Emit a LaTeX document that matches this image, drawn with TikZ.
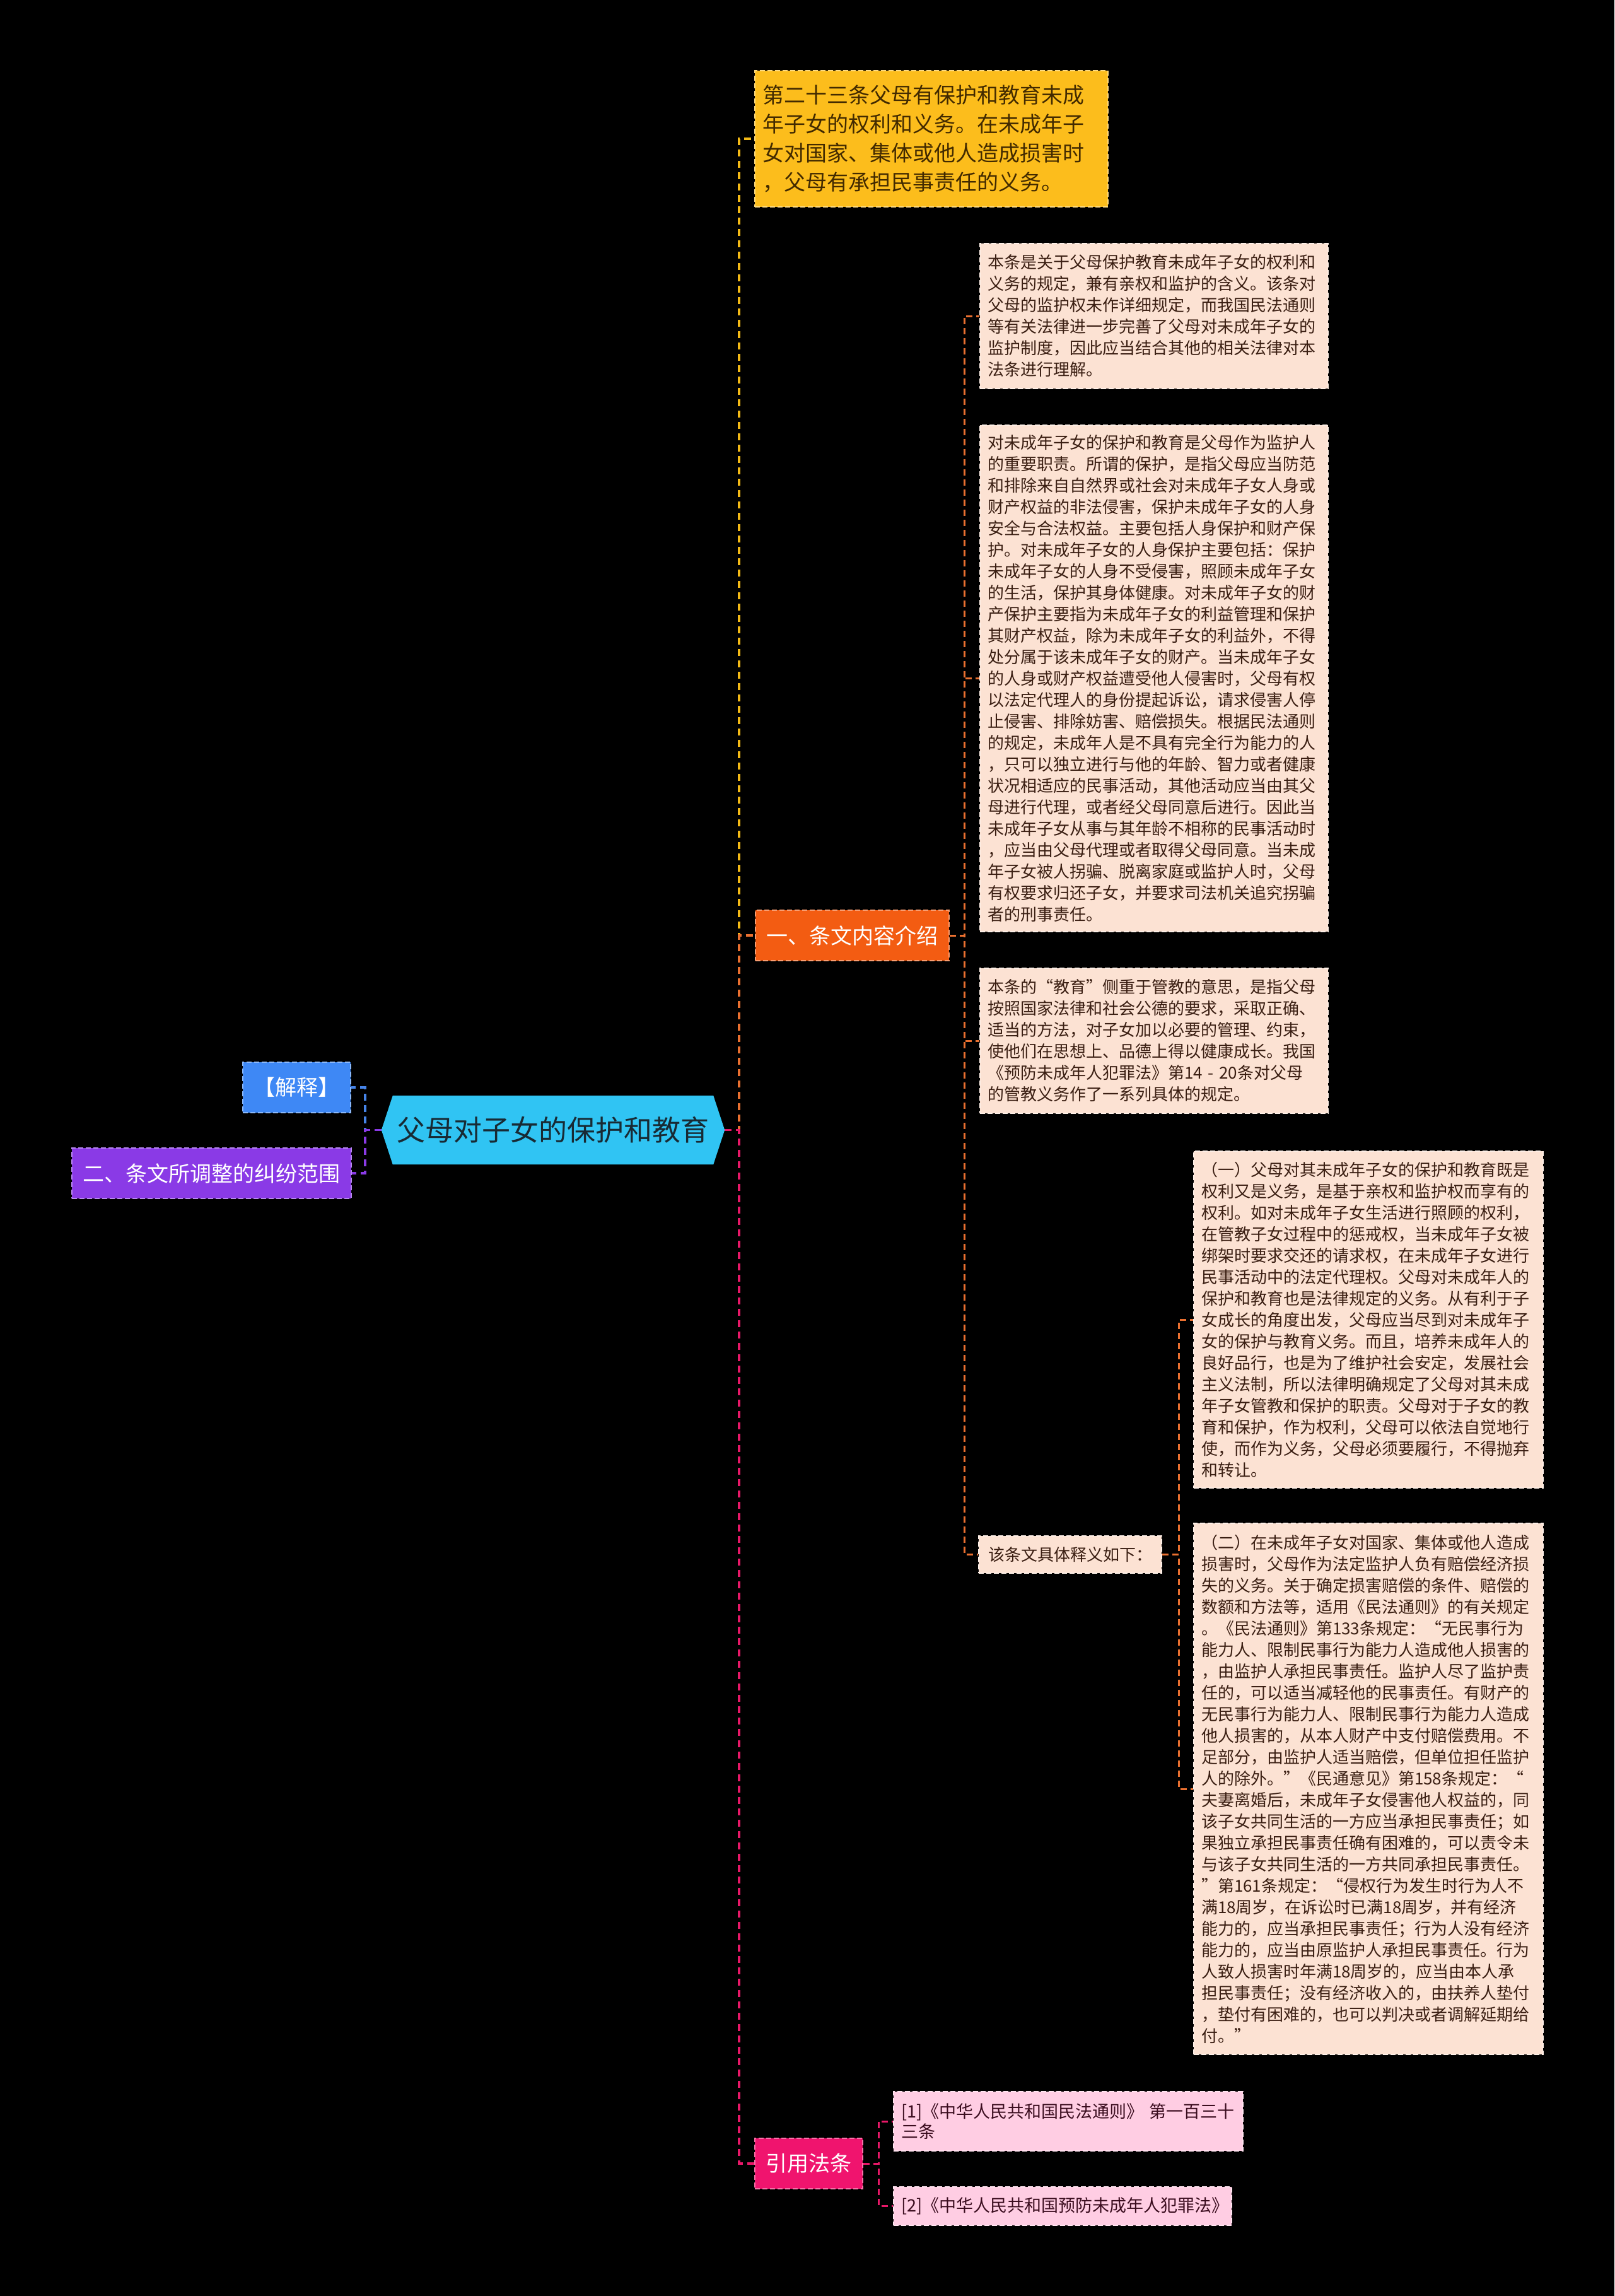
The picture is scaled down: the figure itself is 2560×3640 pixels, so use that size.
\documentclass[tikz,border=0pt]{standalone}
\usepackage{fontspec}
\setmainfont{Noto Sans CJK SC}
\usetikzlibrary{backgrounds}
\definecolor{cYellow}{RGB}{252,189,28}
\definecolor{cYellowTxt}{RGB}{66,42,0}
\definecolor{cYellowLn}{RGB}{244,186,22}
\definecolor{cPeach}{RGB}{252,226,211}
\definecolor{cPeachTxt}{RGB}{58,30,18}
\definecolor{cOrange}{RGB}{243,92,18}
\definecolor{cOrangeLn}{RGB}{234,112,48}
\definecolor{cBlue}{RGB}{62,136,245}
\definecolor{cBlueLn}{RGB}{70,132,232}
\definecolor{cPurple}{RGB}{138,58,230}
\definecolor{cCyan}{RGB}{48,196,243}
\definecolor{cCyanTxt}{RGB}{24,42,52}
\definecolor{cRose}{RGB}{240,20,110}
\definecolor{cRoseLn}{RGB}{232,24,104}
\definecolor{cPink}{RGB}{255,205,227}
\definecolor{cPinkTxt}{RGB}{58,12,30}
\begin{document}
\begin{tikzpicture}[x=1pt,y=-1pt,
  boxbase/.style={anchor=north west, inner ysep=0pt, line width=2pt, dash pattern=on 8pt off 4pt},
  para/.style={boxbase, align=left, inner xsep=12pt, fill=cPeach, draw=cPeach!55!white, text=cPeachTxt, font=\fontsize{26}{34}\selectfont},
  lawbox/.style={boxbase, align=left, inner xsep=12pt, fill=cYellow, draw=cYellow!55!white, text=cYellowTxt, font=\fontsize{34}{46}\selectfont},
  cat/.style={boxbase, inner xsep=17.5pt, minimum height=80pt, text=white, font=\fontsize{34}{40}\selectfont},
  refbox/.style={boxbase, align=left, inner xsep=12pt, fill=cPink, draw=cPink!55!white, text=cPinkTxt, font=\fontsize{27}{32}\selectfont},
  rootst/.style={minimum width=544pt, minimum height=109pt, inner sep=0pt, text=cCyanTxt, font=\fontsize{45}{50}\selectfont},
  mainln/.style={line width=3.5pt, dash pattern=on 11pt off 7pt},
  subln/.style={line width=3pt, dash pattern=on 10pt off 6pt},
]
\path[use as bounding box] (0,0) rectangle (2560,3640);

% root
\node[rootst] (root) at (877,1791.5) {父母对子女的保护和教育};

% left branches
\node[cat, fill=cBlue, draw=cBlue!60!white] (expl) at (384,1683) {【解释】};
\node[cat, fill=cPurple, draw=cPurple!60!white] (scope) at (113,1819) {二、条文所调整的纠纷范围};

% right main branches
\node[lawbox, text width=536pt, minimum height=216pt] (art) at (1196,111) {第二十三条父母有保护和教育未成\\
年子女的权利和义务。在未成年子\\
女对国家、集体或他人造成损害时\\
，父母有承担民事责任的义务。};
\node[cat, fill=cOrange, draw=cOrange!60!white] (sec1) at (1197,1442) {一、条文内容介绍};
\node[cat, fill=cRose, draw=cRose!60!white] (cite) at (1196,3389) {引用法条};

% explanation boxes
\node[para, text width=528pt, minimum height=230pt] (b1) at (1553,385) {本条是关于父母保护教育未成年子女的权利和\\
义务的规定，兼有亲权和监护的含义。该条对\\
父母的监护权未作详细规定，而我国民法通则\\
等有关法律进一步完善了父母对未成年子女的\\
监护制度，因此应当结合其他的相关法律对本\\
法条进行理解。};

\node[para, text width=528pt, minimum height=803pt] (b2) at (1553,673) {对未成年子女的保护和教育是父母作为监护人\\
的重要职责。所谓的保护，是指父母应当防范\\
和排除来自自然界或社会对未成年子女人身或\\
财产权益的非法侵害，保护未成年子女的人身\\
安全与合法权益。主要包括人身保护和财产保\\
护。对未成年子女的人身保护主要包括：保护\\
未成年子女的人身不受侵害，照顾未成年子女\\
的生活，保护其身体健康。对未成年子女的财\\
产保护主要指为未成年子女的利益管理和保护\\
其财产权益，除为未成年子女的利益外，不得\\
处分属于该未成年子女的财产。当未成年子女\\
的人身或财产权益遭受他人侵害时，父母有权\\
以法定代理人的身份提起诉讼，请求侵害人停\\
止侵害、排除妨害、赔偿损失。根据民法通则\\
的规定，未成年人是不具有完全行为能力的人\\
，只可以独立进行与他的年龄、智力或者健康\\
状况相适应的民事活动，其他活动应当由其父\\
母进行代理，或者经父母同意后进行。因此当\\
未成年子女从事与其年龄不相称的民事活动时\\
，应当由父母代理或者取得父母同意。当未成\\
年子女被人拐骗、脱离家庭或监护人时，父母\\
有权要求归还子女，并要求司法机关追究拐骗\\
者的刑事责任。};

\node[para, text width=528pt, minimum height=230pt] (b3) at (1553,1534) {本条的“教育”侧重于管教的意思，是指父母\\
按照国家法律和社会公德的要求，采取正确、\\
适当的方法，对子女加以必要的管理、约束，\\
使他们在思想上、品德上得以健康成长。我国\\
《预防未成年人犯罪法》第14 - 20条对父母\\
的管教义务作了一系列具体的规定。};

\node[para, inner xsep=15pt, minimum height=59pt] (b4) at (1551,2434) {该条文具体释义如下：};

\node[para, text width=530pt, minimum height=534pt] (b5) at (1892,1824) {（一）父母对其未成年子女的保护和教育既是\\
权利又是义务，是基于亲权和监护权而享有的\\
权利。如对未成年子女生活进行照顾的权利，\\
在管教子女过程中的惩戒权，当未成年子女被\\
绑架时要求交还的请求权，在未成年子女进行\\
民事活动中的法定代理权。父母对未成年人的\\
保护和教育也是法律规定的义务。从有利于子\\
女成长的角度出发，父母应当尽到对未成年子\\
女的保护与教育义务。而且，培养未成年人的\\
良好品行，也是为了维护社会安定，发展社会\\
主义法制，所以法律明确规定了父母对其未成\\
年子女管教和保护的职责。父母对于子女的教\\
育和保护，作为权利，父母可以依法自觉地行\\
使，而作为义务，父母必须要履行，不得抛弃\\
和转让。};

\node[para, text width=530pt, minimum height=842pt] (b6) at (1892,2414) {（二）在未成年子女对国家、集体或他人造成\\
损害时，父母作为法定监护人负有赔偿经济损\\
失的义务。关于确定损害赔偿的条件、赔偿的\\
数额和方法等，适用《民法通则》的有关规定\\
。《民法通则》第133条规定：“无民事行为\\
能力人、限制民事行为能力人造成他人损害的\\
，由监护人承担民事责任。监护人尽了监护责\\
任的，可以适当减轻他的民事责任。有财产的\\
无民事行为能力人、限制民事行为能力人造成\\
他人损害的，从本人财产中支付赔偿费用。不\\
足部分，由监护人适当赔偿，但单位担任监护\\
人的除外。”《民通意见》第158条规定：“\\
夫妻离婚后，未成年子女侵害他人权益的，同\\
该子女共同生活的一方应当承担民事责任；如\\
果独立承担民事责任确有困难的，可以责令未\\
与该子女共同生活的一方共同承担民事责任。\\
”第161条规定：“侵权行为发生时行为人不\\
满18周岁，在诉讼时已满18周岁，并有经济\\
能力的，应当承担民事责任；行为人没有经济\\
能力的，应当由原监护人承担民事责任。行为\\
人致人损害时年满18周岁的，应当由本人承\\
担民事责任；没有经济收入的，由扶养人垫付\\
，垫付有困难的，也可以判决或者调解延期给\\
付。”};

% references
\node[refbox, text width=530pt, minimum height=94pt] (r1) at (1416,3315) {[1]《中华人民共和国民法通则》 第一百三十\\
三条};
\node[refbox, text width=512pt, minimum height=61pt] (r2) at (1416,3466) {[2]《中华人民共和国预防未成年人犯罪法》};

% background and hexagon
\begin{scope}[on background layer]
  \fill[black] (0,0) rectangle (2560,3640);
  \fill[cCyan] ([xshift=18pt]root.north west) -- (root.west) -- ([xshift=18pt]root.south west)
     -- ([xshift=-18pt]root.south east) -- (root.east) -- ([xshift=-18pt]root.north east) -- cycle;
\end{scope}

% trunks
\coordinate (tR) at (1172,1791.5);
\coordinate (tL) at (579,1791.5);

\draw[mainln, cYellowLn] (root.east) -- (tR) |- (art.west);
\draw[mainln, cOrangeLn] (root.east) -- (tR) |- (sec1.west);
\draw[mainln, cRoseLn] (root.east) -- (tR) |- (cite.west);
\draw[mainln, cBlueLn] (root.west) -- (tL) |- (expl.east);
\draw[mainln, cPurple] (root.west) -- (tL) |- (scope.east);

% sub connectors
\draw[subln, cOrangeLn] (sec1.east) -- ([xshift=23pt]sec1.east) |- (b1.west);
\draw[subln, cOrangeLn] (sec1.east) -- ([xshift=23pt]sec1.east) |- (b2.west);
\draw[subln, cOrangeLn] (sec1.east) -- ([xshift=23pt]sec1.east) |- (b3.west);
\draw[subln, cOrangeLn] (sec1.east) -- ([xshift=23pt]sec1.east) |- (b4.west);
\draw[subln, cOrangeLn] (b4.east) -- ([xshift=26pt]b4.east) |- (b5.west);
\draw[subln, cOrangeLn] (b4.east) -- ([xshift=26pt]b4.east) |- (b6.west);
\draw[subln, cRoseLn] (cite.east) -- ([xshift=24pt]cite.east) |- (r1.west);
\draw[subln, cRoseLn] (cite.east) -- ([xshift=24pt]cite.east) |- (r2.west);
\end{tikzpicture}
\end{document}
